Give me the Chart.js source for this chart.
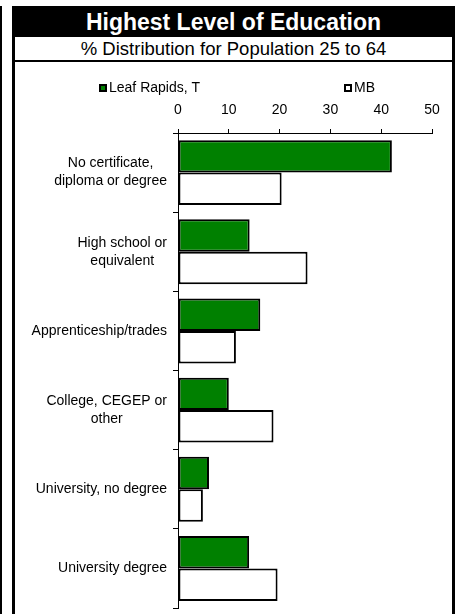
<!DOCTYPE html>
<html lang="en">
<head>
    <meta charset="UTF-8">
    <title>Highest Level of Education</title>
    <script src="https://cdn.jsdelivr.net/npm/chart.js"></script>
    <style>
        body {
            margin: 0;
            width: 457px;
            height: 614px;
            overflow: hidden;
            background-color: #fff;
            font-family: Arial, "Liberation Sans", sans-serif;
            position: relative;
        }

        #leftLine {
            position: absolute;
            left: 0;
            top: 6px;
            width: 2px;
            height: 608px;
            background-color: #000;
        }

        #frame {
            position: absolute;
            left: 12px;
            top: 6px;
            width: 443px;
        }

        #title {
            background-color: #000;
            color: #fff;
            height: 31px;
            line-height: 32px;
            font-size: 23px;
            font-weight: bold;
            text-align: center;
        }

        #subtitle {
            border-left: 3px solid #000;
            border-right: 3px solid #000;
            border-bottom: 2px solid #000;
            height: 23px;
            line-height: 23px;
            font-size: 18.5px;
            text-align: center;
            color: #000;
        }

        #chartBox {
            border-left: 3px solid #000;
            border-right: 3px solid #000;
            height: 552px;
            position: relative;
        }
    </style>
</head>
<body>
    <div id="leftLine"></div>
    <div id="frame">
        <div id="title">Highest Level of Education</div>
        <div id="subtitle">% Distribution for Population 25 to 64</div>
        <div id="chartBox">
            <canvas id="eduChart"></canvas>
        </div>
    </div>

    <script>
        // Datos
        const categories = [
            ['No certificate,', 'diploma or degree'],
            ['High school or', 'equivalent'],
            ['Apprenticeship/trades'],
            ['College, CEGEP or', 'other'],
            ['University, no degree'],
            ['University degree']
        ];
        const seriesNames = ['Leaf Rapids, T', 'MB'];
        const leafRapids = [42.1, 14.1, 16.2, 10.0, 6.1, 14.0];
        const manitoba = [20.4, 25.5, 11.4, 18.8, 4.9, 19.6];
        const xTicks = [0, 10, 20, 30, 40, 50];

        const FONT = 'Arial, "Liberation Sans", sans-serif';
        Chart.defaults.font.family = FONT;
        Chart.defaults.color = '#000';

        // Leyenda dibujada a mano (cuadros pequeños, muy separados)
        const legendPlugin = {
            id: 'excelLegend',
            afterDraw(chart) {
                const ctx = chart.ctx;
                const left = chart.chartArea.left;
                const offsets = [-79, 166];
                ctx.save();
                ctx.font = '14px ' + FONT;
                ctx.textBaseline = 'middle';
                ctx.textAlign = 'left';
                chart.data.datasets.forEach(function(ds, i) {
                    const x = left + offsets[i];
                    const y = 22;
                    ctx.fillStyle = ds.backgroundColor;
                    ctx.fillRect(x, y, 8, 8);
                    ctx.strokeStyle = '#000';
                    ctx.lineWidth = 2;
                    ctx.strokeRect(x + 1, y + 1, 6, 6);
                    ctx.fillStyle = '#000';
                    ctx.fillText(ds.label, x + 10, y + 4.5);
                });
                ctx.restore();
            }
        };

        // Etiquetas de categorías: bloque alineado a la derecha, líneas centradas
        const categoryLabelPlugin = {
            id: 'categoryLabels',
            afterDraw(chart) {
                const scale = chart.scales.y;
                const ctx = chart.ctx;
                const lineHeight = 18;
                ctx.save();
                ctx.font = '14px ' + FONT;
                ctx.fillStyle = '#000';
                ctx.textAlign = 'center';
                ctx.textBaseline = 'middle';
                categories.forEach(function(lines, i) {
                    const yMid = scale.getPixelForTick(i);
                    const blockWidth = Math.max.apply(null, lines.map(l => ctx.measureText(l).width));
                    const blockRight = scale.right - 11;
                    lines.forEach(function(line, j) {
                        const y = yMid + (j - (lines.length - 1) / 2) * lineHeight;
                        ctx.fillText(line, blockRight - blockWidth / 2, y);
                    });
                });
                ctx.restore();
            }
        };

        const ctx = document.getElementById('eduChart').getContext('2d');
        const eduChart = new Chart(ctx, {
            type: 'bar',
            data: {
                labels: categories,
                datasets: [{
                    label: seriesNames[0],
                    data: leafRapids,
                    backgroundColor: '#008000',
                    borderColor: '#000',
                    borderWidth: 2,
                    borderSkipped: false
                }, {
                    label: seriesNames[1],
                    data: manitoba,
                    backgroundColor: '#ffffff',
                    borderColor: '#000',
                    borderWidth: 2,
                    borderSkipped: false
                }]
            },
            options: {
                indexAxis: 'y',
                responsive: true,
                maintainAspectRatio: false,
                animation: false,
                categoryPercentage: 0.82,
                barPercentage: 1.0,
                layout: {
                    padding: { top: 0, right: 20, bottom: 6, left: 0 }
                },
                plugins: {
                    legend: { display: false },
                    tooltip: { enabled: false }
                },
                scales: {
                    x: {
                        position: 'top',
                        min: xTicks[0],
                        max: xTicks[xTicks.length - 1],
                        afterBuildTicks: function(scale) {
                            scale.ticks = xTicks.map(v => ({ value: v }));
                        },
                        afterFit: function(scale) {
                            scale.height = 71;
                        },
                        ticks: {
                            font: { size: 14 },
                            color: '#000',
                            padding: 10
                        },
                        grid: {
                            drawOnChartArea: false,
                            tickLength: 4,
                            color: '#000'
                        },
                        border: { color: '#000', width: 1 }
                    },
                    y: {
                        afterFit: function(scale) {
                            scale.width = 163;
                        },
                        ticks: { display: false },
                        grid: {
                            offset: true,
                            drawOnChartArea: false,
                            tickLength: 5,
                            color: '#000'
                        },
                        border: { color: '#000', width: 1 }
                    }
                }
            },
            plugins: [legendPlugin, categoryLabelPlugin]
        });
    </script>
</body>
</html>
